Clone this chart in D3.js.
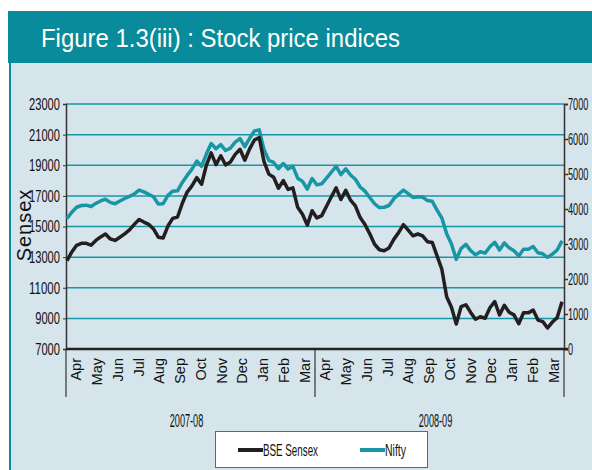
<!DOCTYPE html>
<html>
<head>
<meta charset="utf-8">
<script src="https://d3js.org/d3.v7.min.js"></script>
<style>
  body { margin: 0; background: #fff; }
  svg { display: block; }
</style>
</head>
<body>
<svg id="chart"></svg>
<script>
// weekly closes, Apr 2007 - Mar 2009
const months = ["Apr", "May", "Jun", "Jul", "Aug", "Sep", "Oct", "Nov", "Dec", "Jan", "Feb", "Mar"];
const years = ["2007-08", "2008-09"];

const sensex = [
  12770, 13340, 13770, 13900, 13900, 13780, 14090, 14320, 14510, 14190,
  14090, 14300, 14520, 14780, 15140, 15460, 15290, 15140, 14840, 14300,
  14250, 15030, 15530, 15620, 16520, 17250, 17650, 18190, 17760, 19000,
  19810, 19040, 19620, 19020, 19210, 19710, 20040, 19330, 20070, 20650,
  20800, 19230, 18420, 18220, 17500, 18000, 17420, 17520, 16250, 15800,
  15090, 16030, 15560, 15710, 16320, 16940, 17520, 16760, 17370, 16720,
  16350, 15580, 15130, 14520, 13840, 13480, 13420, 13600, 14160, 14600,
  15120, 14760, 14390, 14510, 14390, 14010, 13960, 13080, 12210, 10410,
  9730, 8630, 9760, 9890, 9390, 8940, 9110, 9010, 9690, 10100,
  9230, 9860, 9400, 9230, 8650, 9370, 9360, 9540, 8890, 8790,
  8370, 8760, 9050, 10090
];

const nifty = [
  3730, 3910, 4050, 4100, 4110, 4070, 4160, 4230, 4280, 4190,
  4150, 4230, 4300, 4360, 4430, 4540, 4490, 4420, 4350, 4140,
  4150, 4390, 4510, 4520, 4760, 4960, 5140, 5370, 5220, 5570,
  5870, 5720, 5840, 5670, 5740, 5910, 6010, 5780, 6020, 6230,
  6260, 5690, 5390, 5330, 5150, 5300, 5140, 5220, 4880, 4790,
  4570, 4870, 4690, 4720, 4880, 5050, 5220, 4980, 5150, 4970,
  4850, 4630, 4510, 4330, 4150, 4040, 4050, 4100, 4290, 4420,
  4540, 4440, 4330, 4350, 4340, 4240, 4220, 3970, 3740, 3290,
  3000, 2560, 2870, 2990, 2810, 2690, 2780, 2740, 2920, 3050,
  2830, 3030, 2890, 2810, 2660, 2850, 2850, 2930, 2750, 2720,
  2620, 2710, 2830, 3090
];

const sensexTicks = [7000, 9000, 11000, 13000, 15000, 17000, 19000, 21000, 23000];
const niftyTicks = [0, 1000, 2000, 3000, 4000, 5000, 6000, 7000];

const W = 592, H = 470;
const TEAL = "#0a8b9b";
const font = "'Liberation Sans', Arial, sans-serif";

// squeeze text horizontally, the original uses a compressed face
function squeeze(sel, perChar) {
  sel.attr("textLength", function () { return this.textContent.length * perChar; })
    .attr("lengthAdjust", "spacingAndGlyphs");
}

const svg = d3.select("#chart").attr("width", W).attr("height", H);

// panel + header
svg.append("rect")
  .attr("x", 10).attr("y", 62).attr("width", W).attr("height", H)
  .attr("fill", "#d6e5eb").attr("stroke", TEAL).attr("stroke-width", 2);
svg.append("rect")
  .attr("x", 8).attr("y", 11).attr("width", W).attr("height", 52)
  .attr("fill", TEAL);
svg.append("text")
  .attr("x", 41).attr("y", 47)
  .attr("fill", "#fff")
  .style("font-family", font)
  .style("font-size", "26px")
  .attr("textLength", 359).attr("lengthAdjust", "spacingAndGlyphs")
  .text("Figure 1.3(iii) : Stock price indices");

const pLeft = 66, pRight = 564, pTop = 104, pBottom = 349;

const ySensex = d3.scaleLinear().domain([7000, 23000]).range([pBottom, pTop]);
const yNifty = d3.scaleLinear().domain([0, 7000]).range([pBottom, pTop]);
const x = d3.scaleLinear().domain([0, sensex.length - 1]).range([pLeft + 1, pRight - 2]);

const monthKeys = years.flatMap(y => months.map(m => y + "-" + m));
const xMonth = d3.scaleBand().domain(monthKeys).range([pLeft, pRight]);

// grid
svg.append("g")
  .selectAll("line")
  .data(sensexTicks.filter(d => d > 7000))
  .join("line")
  .attr("x1", pLeft).attr("x2", pRight)
  .attr("y1", d => ySensex(d)).attr("y2", d => ySensex(d))
  .attr("stroke", "#1597a7").attr("stroke-width", 1.5);

// left axis
const gl = svg.append("g")
  .attr("transform", `translate(${pLeft},0)`)
  .call(d3.axisLeft(ySensex).tickValues(sensexTicks).tickSize(3).tickFormat(d3.format("d")));
gl.select(".domain").attr("stroke", "#333").attr("stroke-width", 1.5);
gl.selectAll(".tick line").attr("stroke", "#333");
gl.selectAll(".tick text")
  .attr("x", -6)
  .style("font-family", font).style("font-size", "17px")
  .attr("fill", "#111")
  .call(squeeze, 6.2);

// right axis
const gr = svg.append("g")
  .attr("transform", `translate(${pRight},0)`)
  .call(d3.axisRight(yNifty).tickValues(niftyTicks).tickSize(4).tickFormat(d3.format("d")));
gr.select(".domain").attr("stroke", "#333").attr("stroke-width", 1.5);
gr.selectAll(".tick line").attr("stroke", "#333").attr("stroke-width", 1.5);
gr.selectAll(".tick text")
  .style("font-family", font).style("font-size", "17px")
  .attr("fill", "#111")
  .each(function () {
    const s = this.textContent.length * 5.1 / this.getComputedTextLength();
    d3.select(this).attr("x", 4 / s).attr("transform", `scale(${s},1)`);
  });

// bottom axis line
svg.append("line")
  .attr("x1", pLeft).attr("x2", pRight + 4)
  .attr("y1", pBottom).attr("y2", pBottom)
  .attr("stroke", "#222").attr("stroke-width", 2.5);

// year dividers
svg.append("g")
  .selectAll("line")
  .data([0, 12, 24])
  .join("line")
  .attr("x1", d => pLeft + d * xMonth.bandwidth())
  .attr("x2", d => pLeft + d * xMonth.bandwidth())
  .attr("y1", pBottom).attr("y2", 397)
  .attr("stroke", "#333").attr("stroke-width", 1.2);

// month labels
svg.append("g")
  .selectAll("text")
  .data(monthKeys)
  .join("text")
  .attr("transform", d => `translate(${xMonth(d) + xMonth.bandwidth() / 2 + 5},358) rotate(-90)`)
  .attr("text-anchor", "end")
  .style("font-family", font).style("font-size", "14.5px")
  .attr("fill", "#111")
  .text(d => d.slice(8));

// year labels
svg.append("g")
  .selectAll("text")
  .data(years)
  .join("text")
  .attr("x", (d, i) => pLeft + (i * 12 + 6) * xMonth.bandwidth() - 4)
  .attr("y", 427)
  .attr("text-anchor", "middle")
  .style("font-family", font).style("font-size", "18px")
  .attr("fill", "#111")
  .text(d => d)
  .call(squeeze, 4.8);

// y title
svg.append("text")
  .attr("transform", "translate(31,225) rotate(-90)")
  .attr("text-anchor", "middle")
  .style("font-family", font).style("font-size", "20px")
  .style("letter-spacing", "1px")
  .attr("fill", "#111")
  .text("Sensex");

// lines
const lineS = d3.line().x((d, i) => x(i)).y(d => ySensex(d));
const lineN = d3.line().x((d, i) => x(i)).y(d => yNifty(d));

svg.append("path").datum(nifty)
  .attr("d", lineN).attr("fill", "none")
  .attr("stroke", "#1896a4").attr("stroke-width", 3.5).attr("stroke-linejoin", "round");
svg.append("path").datum(sensex)
  .attr("d", lineS).attr("fill", "none")
  .attr("stroke", "#231f20").attr("stroke-width", 3.5).attr("stroke-linejoin", "round");

// legend
const leg = svg.append("g");
leg.append("rect")
  .attr("x", 215.5).attr("y", 431.5).attr("width", 212).attr("height", 36)
  .attr("fill", "#fff").attr("stroke", TEAL).attr("stroke-width", 1);
const items = [
  { name: "BSE Sensex", color: "#231f20", x: 238, w: 55 },
  { name: "Nifty", color: "#1896a4", x: 360, w: 21 }
];
items.forEach(it => {
  leg.append("line")
    .attr("x1", it.x).attr("x2", it.x + 25)
    .attr("y1", 450).attr("y2", 450)
    .attr("stroke", it.color).attr("stroke-width", 4);
  leg.append("text")
    .attr("x", it.x + 25).attr("y", 456)
    .style("font-family", font).style("font-size", "17px")
    .attr("fill", "#111")
    .attr("textLength", it.w).attr("lengthAdjust", "spacingAndGlyphs")
    .text(it.name);
});
</script>
</body>
</html>
